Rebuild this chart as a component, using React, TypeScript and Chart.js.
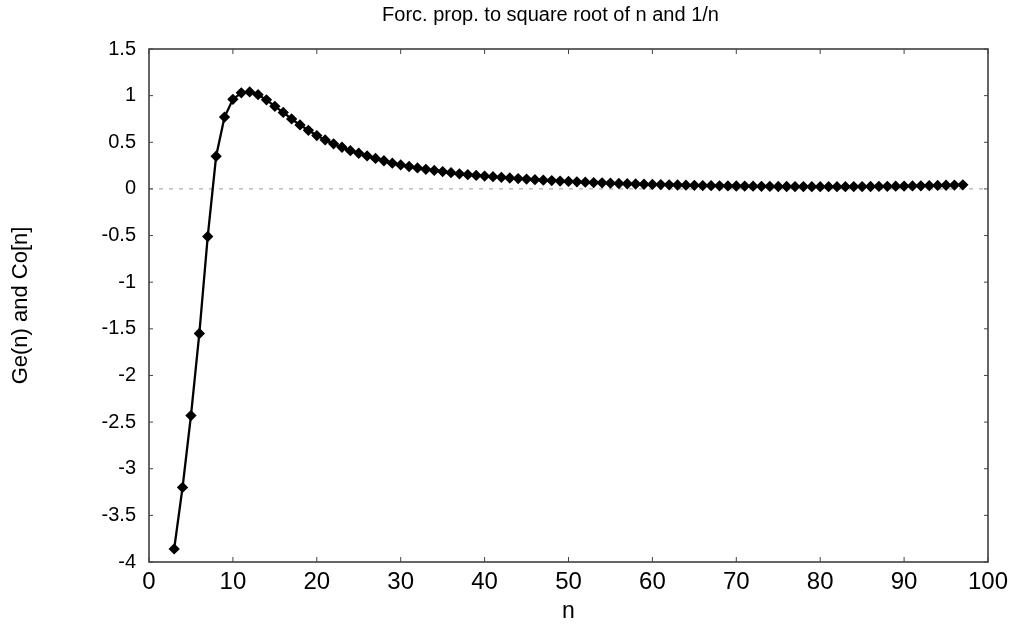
import React, { useEffect, useRef } from "react";
import { Chart, registerables } from "chart.js";

Chart.register(...registerables);

const titleText = "Forc. prop. to square root of n and 1/n";
const xTitle = "n";
const yTitle = "Ge(n) and Co[n]";

const nValues = [
  3, 4, 5, 6, 7, 8, 9, 10, 11, 12, 13, 14, 15, 16, 17, 18, 19, 20, 21, 22, 23, 24, 25, 26, 27, 28, 29, 30,
  31, 32, 33, 34, 35, 36, 37, 38, 39, 40, 41, 42, 43, 44, 45, 46, 47, 48, 49, 50, 51, 52, 53, 54, 55, 56,
  57, 58, 59, 60, 61, 62, 63, 64, 65, 66, 67, 68, 69, 70, 71, 72, 73, 74, 75, 76, 77, 78, 79, 80, 81, 82,
  83, 84, 85, 86, 87, 88, 89, 90, 91, 92, 93, 94, 95, 96, 97,
];

const geValues = [
  -3.86, -3.2, -2.43, -1.55, -0.51, 0.35, 0.77, 0.96, 1.03, 1.04, 1.01, 0.955, 0.885, 0.82, 0.75, 0.686,
  0.628, 0.572, 0.525, 0.483, 0.447, 0.41, 0.382, 0.354, 0.327, 0.302, 0.276, 0.257, 0.24, 0.225, 0.21,
  0.198, 0.186, 0.174, 0.162, 0.153, 0.145, 0.138, 0.131, 0.124, 0.117, 0.111, 0.105, 0.099, 0.094, 0.089,
  0.084, 0.08, 0.076, 0.072, 0.068, 0.065, 0.062, 0.058, 0.055, 0.053, 0.05, 0.048, 0.046, 0.044, 0.042,
  0.04, 0.038, 0.036, 0.035, 0.033, 0.032, 0.031, 0.03, 0.029, 0.028, 0.027, 0.026, 0.026, 0.025, 0.025,
  0.024, 0.024, 0.024, 0.024, 0.024, 0.025, 0.025, 0.026, 0.027, 0.028, 0.029, 0.03, 0.032, 0.033, 0.035,
  0.037, 0.039, 0.041, 0.044,
];

const xMin = 0;
const xMax = 100;
const xStep = 10;
const yMin = -4;
const yMax = 1.5;
const yStep = 0.5;

const framePlugin = {
  id: "frame",
  beforeDatasetsDraw(chart: any) {
    const { ctx, chartArea, scales } = chart;
    const { left, right, top, bottom } = chartArea;
    const x = scales.x;
    const y = scales.y;
    ctx.save();
    const y0 = y.getPixelForValue(0);
    ctx.strokeStyle = "#9a9a9a";
    ctx.lineWidth = 1;
    ctx.setLineDash([4, 6]);
    ctx.beginPath();
    ctx.moveTo(left, y0);
    ctx.lineTo(right, y0);
    ctx.stroke();
    ctx.setLineDash([]);
    ctx.strokeStyle = "#333";
    ctx.lineWidth = 1.5;
    ctx.strokeRect(left, top, right - left, bottom - top);
    ctx.lineWidth = 1;
    ctx.strokeStyle = "#444";
    ctx.beginPath();
    x.ticks.forEach((t: any) => {
      const px = x.getPixelForValue(t.value);
      ctx.moveTo(px, bottom);
      ctx.lineTo(px, bottom - 5);
      ctx.moveTo(px, top);
      ctx.lineTo(px, top + 5);
    });
    y.ticks.forEach((t: any) => {
      const py = y.getPixelForValue(t.value);
      ctx.moveTo(left, py);
      ctx.lineTo(left + 4, py);
      ctx.moveTo(right, py);
      ctx.lineTo(right - 4, py);
    });
    ctx.stroke();
    ctx.restore();
  },
  afterDraw(chart: any) {
    const { ctx, chartArea } = chart;
    ctx.save();
    ctx.fillStyle = "#000";
    ctx.font = "20px 'Liberation Sans', Arial, sans-serif";
    ctx.textAlign = "center";
    ctx.textBaseline = "middle";
    ctx.fillText(titleText, (chartArea.left + chartArea.right) / 2 - 18, 15);
    ctx.restore();
  },
};

export default function App() {
  const ref = useRef<HTMLCanvasElement | null>(null);

  useEffect(() => {
    document.body.style.margin = "0";
    const canvas = ref.current;
    if (!canvas) return;
    const points = nValues.map((n, i) => ({ x: n, y: geValues[i] }));
    const chart = new Chart(canvas, {
      type: "scatter",
      data: {
        datasets: [
          {
            data: points,
            showLine: true,
            borderColor: "#000",
            backgroundColor: "#000",
            borderWidth: 2.3,
            pointStyle: "rectRot",
            pointRadius: 4.6,
            pointBorderWidth: 1.5,
            pointBorderColor: "#000",
            pointBackgroundColor: "#000",
          },
        ],
      },
      options: {
        responsive: false,
        animation: false,
        layout: { padding: { left: 0, right: 27, top: 49, bottom: 0 } },
        plugins: {
          legend: { display: false },
          tooltip: { enabled: false },
          title: { display: false },
        },
        scales: {
          x: {
            type: "linear",
            min: xMin,
            max: xMax,
            afterFit: (s: any) => {
              s.height = 75;
            },
            ticks: {
              stepSize: xStep,
              color: "#000",
              padding: 6,
              maxRotation: 0,
              font: { family: "'Liberation Sans', Arial, sans-serif", size: 24 },
            },
            grid: { display: false, drawTicks: false },
            border: { display: false },
            title: {
              display: true,
              text: xTitle,
              color: "#000",
              font: { family: "'Liberation Sans', Arial, sans-serif", size: 23 },
              padding: { top: 0, bottom: 12 },
            },
          },
          y: {
            type: "linear",
            min: yMin,
            max: yMax,
            afterFit: (s: any) => {
              s.width = 149;
            },
            ticks: {
              stepSize: yStep,
              color: "#000",
              padding: 13,
              font: { family: "'Liberation Sans', Arial, sans-serif", size: 20 },
              callback: (v: any) => String(Math.round(Number(v) * 10) / 10),
            },
            grid: { display: false, drawTicks: false },
            border: { display: false },
            title: {
              display: true,
              text: yTitle,
              color: "#000",
              font: { family: "'Liberation Sans', Arial, sans-serif", size: 22 },
              padding: { top: 8, bottom: 0 },
            },
          },
        },
      },
      plugins: [framePlugin],
    });
    return () => chart.destroy();
  }, []);

  return <canvas ref={ref} width={1015} height={637} style={{ display: "block", width: 1015, height: 637 }} />;
}
